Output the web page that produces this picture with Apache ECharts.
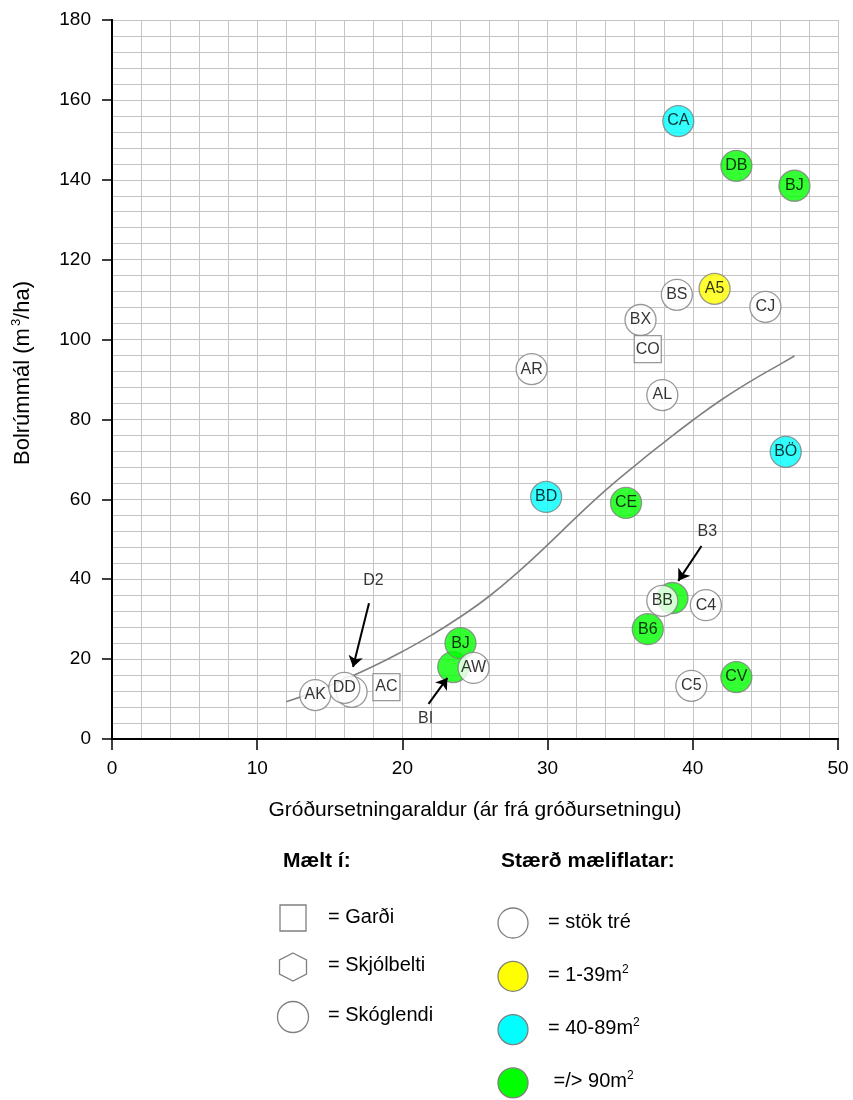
<!DOCTYPE html>
<html>
<head>
<meta charset="utf-8">
<script src="https://cdn.jsdelivr.net/npm/echarts@6/dist/echarts.min.js"></script>
<style>
html, body { margin: 0; padding: 0; background: #fff; }
#chart { width: 853px; height: 1100px; }
</style>
</head>
<body>
<div id="chart"></div>
<script>
// mælingar, í teikniröð (síðari ofan á fyrri)
const pointNames = ['CA', 'DB', 'BJ', 'A5', 'BS', 'CJ', 'BX', 'CO', 'AR', 'AL', 'BÖ', 'BD', 'CE', 'B3', 'BB', 'C4', 'B6', 'CV', 'C5', 'BI', 'BJ', 'AW', 'AC', 'AK', 'D2', 'DD']
const pointAge = [39, 43, 47, 41.5, 38.9, 45, 36.4, 36.9, 28.9, 37.9, 46.4, 29.9, 35.4, 38.6, 37.9, 40.9, 36.9, 43, 39.9, 23.5, 24, 24.9, 18.9, 14, 16.5, 16]
const pointVolume = [154.7, 143.5, 138.5, 112.7, 111.2, 108.2, 104.9, 97.6, 92.6, 86.1, 71.9, 60.6, 59.1, 35.3, 34.6, 33.5, 27.5, 15.5, 13.3, 18, 24, 17.8, 13, 11, 11.8, 12.8]
// stærð mæliflatar
const pointPlot = ['40-89', '90', '90', '1-39', 'stok', 'stok', 'stok', 'stok', 'stok', 'stok', '40-89', '40-89', '90', '90', 'stok', 'stok', '90', '90', 'stok', '90', '90', 'stok', 'stok', 'stok', 'stok', 'stok']
// mælt í
const pointSite = ['skog', 'skog', 'skog', 'skog', 'skog', 'skog', 'skog', 'gardur', 'skog', 'skog', 'skog', 'skog', 'skog', 'skog', 'skog', 'skog', 'skog', 'skog', 'skog', 'skog', 'skog', 'skog', 'gardur', 'skog', 'skog', 'skog']

// ferill
const curveAge = [12, 14, 16, 18, 20, 22, 24, 26, 28, 30, 32, 34, 36, 38, 40, 42, 44, 46, 47]
const curveVolume = [9.3, 11.9, 14.9, 18.2, 21.9, 26.0, 30.6, 35.8, 41.9, 48.6, 55.6, 62.3, 68.4, 74.2, 79.8, 85.0, 89.6, 93.8, 95.9]

// örvar að faldum punktum
const calloutNames = ['D2', 'BI', 'B3']
const calloutTextAt = [[18.0, 39.6], [21.6, 5.0], [41.0, 51.8]]
const calloutFrom = [[17.7, 34.0], [21.8, 8.8], [40.6, 48.3]]
const calloutTo = [[16.6, 18.0], [23.1, 15.3], [39.0, 39.6]]

const xTicks = [0, 10, 20, 30, 40, 50]
const yTicks = [0, 20, 40, 60, 80, 100, 120, 140, 160, 180]

const siteLabels = ['= Garði', '= Skjólbelti', '= Skóglendi']
const plotLabels = ['= stök tré', '= 1-39m{sup|2}', '= 40-89m{sup|2}', ' =/> 90m{sup|2}']

const plotColors = {'stok': '#ffffff', '1-39': '#ffff00', '40-89': '#00ffff', '90': '#00ff00'}
const FONT = 'Liberation Sans, Arial, sans-serif'
const GRID_COLOR = '#c4c4c4'
const EDGE = '#7f7f7f'

let chart = echarts.init(document.getElementById('chart'), null, {renderer: 'canvas'})

let points = []
for (let i = 0; i < pointNames.length; i++) {
  let square = pointSite[i] === 'gardur'
  points.push({
    name: pointNames[i],
    value: [pointAge[i], pointVolume[i]],
    symbol: square ? 'rect' : 'circle',
    symbolSize: square ? 27 : 31,
    itemStyle: {color: plotColors[pointPlot[i]], borderColor: EDGE, borderWidth: 1.3},
    label: {show: calloutNames.indexOf(pointNames[i]) < 0}
  })
}

let curve = curveAge.map((x, i) => [x, curveVolume[i]])
let calloutLines = calloutFrom.map((p, i) => [{coord: p}, {coord: calloutTo[i]}])
let calloutTexts = calloutNames.map((n, i) => ({name: n, value: calloutTextAt[i]}))

// skýringar fyrir neðan
let graphics = [
  {type: 'text', left: 283, top: 851, style: {text: 'Mælt í:', font: 'bold 21px ' + FONT, fill: '#000'}},
  {type: 'text', left: 501, top: 851, style: {text: 'Stærð mæliflatar:', font: 'bold 21px ' + FONT, fill: '#000'}},
  {type: 'rect', shape: {x: 280, y: 905, width: 26, height: 26}, style: {fill: '#fff', stroke: EDGE, lineWidth: 1.3}},
  {type: 'polygon', shape: {points: [[293, 953], [306.5, 960], [306.5, 974], [293, 981], [279.5, 974], [279.5, 960]]}, style: {fill: '#fff', stroke: EDGE, lineWidth: 1.3}},
  {type: 'circle', shape: {cx: 293, cy: 1017, r: 15.5}, style: {fill: '#fff', stroke: EDGE, lineWidth: 1.3}}
]
siteLabels.forEach((t, i) => {
  graphics.push({type: 'text', x: 328, y: [917, 965, 1015][i],
    style: {text: t, font: '20px ' + FONT, fill: '#000', verticalAlign: 'middle'}})
})
let plotKeys = ['stok', '1-39', '40-89', '90']
plotKeys.forEach((k, i) => {
  let cy = 923 + i * 53.3
  graphics.push({type: 'circle', shape: {cx: 513, cy: cy, r: 15},
    style: {fill: plotColors[k], stroke: EDGE, lineWidth: 1.3}})
  graphics.push({type: 'text', x: 548, y: cy - 1,
    style: {text: plotLabels[i], font: '20px ' + FONT, fill: '#000', verticalAlign: 'middle',
      rich: {sup: {fontSize: 12, fontFamily: FONT, padding: [0, 0, 12, 0]}}}})
})

let option = {
  animation: false,
  backgroundColor: '#fff',
  textStyle: {fontFamily: FONT},
  grid: {left: 112, top: 20, width: 726, height: 719},
  xAxis: [
    {
      type: 'value', min: xTicks[0], max: xTicks[xTicks.length - 1], interval: 10,
      axisLine: {show: true, onZero: false, lineStyle: {color: '#000', width: 2}},
      axisTick: {show: true, length: 11, lineStyle: {color: '#000', width: 1.5}},
      axisLabel: {fontSize: 19, color: '#000', margin: 20},
      splitLine: {show: true, lineStyle: {color: GRID_COLOR, width: 1}},
      minorTick: {show: false, splitNumber: 5},
      minorSplitLine: {show: true, lineStyle: {color: GRID_COLOR, width: 1}},
      name: 'Gróðursetningaraldur (ár frá gróðursetningu)',
      nameLocation: 'middle', nameGap: 61,
      nameTextStyle: {fontSize: 21, color: '#000'}
    },
    {
      type: 'value', position: 'top', min: 0, max: 50,
      axisLine: {show: true, lineStyle: {color: '#000', width: 2}},
      axisTick: {show: false}, axisLabel: {show: false}, splitLine: {show: false}
    }
  ],
  yAxis: [
    {
      type: 'value', min: yTicks[0], max: yTicks[yTicks.length - 1], interval: 20,
      axisLine: {show: true, onZero: false, lineStyle: {color: '#000', width: 2}},
      axisTick: {show: true, length: 10, lineStyle: {color: '#000', width: 1.5}},
      axisLabel: {fontSize: 19, color: '#000', margin: 21},
      splitLine: {show: true, lineStyle: {color: GRID_COLOR, width: 1}},
      minorTick: {show: false, splitNumber: 5},
      minorSplitLine: {show: true, lineStyle: {color: GRID_COLOR, width: 1}},
      name: 'Bolrúmmál (m{sup|3}/ha)',
      nameLocation: 'middle', nameRotate: 90, nameGap: 77,
      nameTextStyle: {fontSize: 22, color: '#000', padding: [0, 0, 0, 13],
        rich: {sup: {fontSize: 13, fontFamily: FONT, padding: [0, 0, 12, 2]}}}
    },
    {
      type: 'value', position: 'right', min: 0, max: 180,
      axisLine: {show: true, lineStyle: {color: '#000', width: 2}},
      axisTick: {show: false}, axisLabel: {show: false}, splitLine: {show: false}
    }
  ],
  series: [
    {
      type: 'line', data: curve, smooth: 0.5, showSymbol: false, silent: true,
      lineStyle: {color: '#808080', width: 1.6}, z: 2
    },
    {
      type: 'scatter', data: points, z: 3,
      label: {position: 'inside', formatter: '{b}', fontSize: 16, color: '#000'}
    },
    {
      type: 'scatter', data: calloutTexts, symbolSize: 0, z: 4,
      label: {show: true, position: 'inside', formatter: '{b}', fontSize: 16, color: '#000'},
      markLine: {
        silent: true, symbol: ['none', 'arrow'], symbolSize: 11,
        lineStyle: {color: '#000', width: 2, type: 'solid'},
        label: {show: false},
        data: calloutLines
      }
    }
  ],
  graphic: graphics
}

chart.setOption(option)
</script>
</body>
</html>
